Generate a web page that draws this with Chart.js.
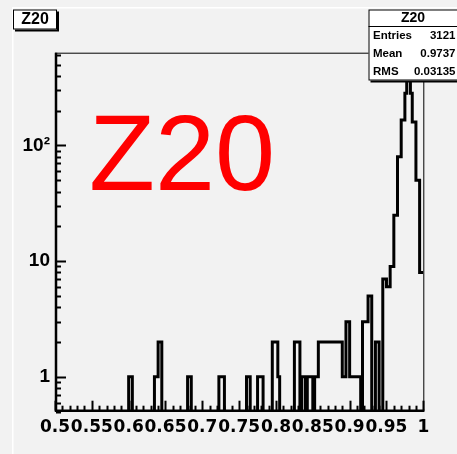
<!DOCTYPE html>
<html lang="en">
<head>
<meta charset="UTF-8">
<title>Z20</title>
<script src="https://cdn.jsdelivr.net/npm/chart.js"></script>
<style>
  html, body { margin: 0; padding: 0; background: #f2f2f2; }
  canvas { display: block; }
</style>
</head>
<body>
<canvas id="z20" width="457" height="454"></canvas>
<script>
// histogram, as runs of equal bin content (bin width 0.0025)
const runLow   = [0.600, 0.635, 0.640, 0.680, 0.7225, 0.760, 0.775, 0.795, 0.8025, 0.825, 0.835, 0.8425, 0.8525, 0.8575, 0.890, 0.895, 0.900, 0.9175, 0.925, 0.935, 0.945, 0.950, 0.955, 0.960, 0.965, 0.970, 0.975, 0.9775, 0.980, 0.9825, 0.985, 0.990, 0.995];
const runHigh  = [0.605, 0.640, 0.645, 0.685, 0.730, 0.765, 0.7825, 0.8025, 0.805, 0.8325, 0.840, 0.850, 0.8575, 0.890, 0.895, 0.900, 0.915, 0.925, 0.930, 0.940, 0.950, 0.955, 0.960, 0.965, 0.970, 0.975, 0.9775, 0.980, 0.9825, 0.985, 0.990, 0.995, 1.000];
const runCount = [1, 1, 2, 1, 1, 1, 1, 2, 1, 2, 1, 1, 1, 2, 1, 3, 1, 3, 5, 2, 7, 6, 9, 25, 80, 166, 283, 450, 420, 283, 160, 50, 8];

const xTicks = [0.5, 0.55, 0.6, 0.65, 0.7, 0.75, 0.8, 0.85, 0.9, 0.95, 1];
const yTicks = [1, 10, 100];
const yTickLabels = ['1', '10', '10\u00B2'];

const statLabels = ['Entries', 'Mean', 'RMS'];
const statValues = ['3121', '0.9737', '0.03135'];
const histTitle = 'Z20';

const X_MIN = 0.5, X_MAX = 1, N_BINS = 200;
const Y_MIN = 0.5, Y_MAX = 634;
const FONT = "'Liberation Sans', Arial, sans-serif";
const WIDE_FONT = "'DejaVu Sans', 'Liberation Sans', sans-serif";

// outline points, ROOT style (empty bins sit on the bottom of the frame)
const binW = (X_MAX - X_MIN) / N_BINS;
const outline = [];
for (let i = 0; i < N_BINS; i++) {
    const lo = X_MIN + i * binW;
    const hi = lo + binW;
    const mid = lo + binW / 2;
    let c = 0;
    runLow.forEach((l, k) => {
        if (mid > l && mid < runHigh[k]) c = runCount[k];
    });
    const y = c > 0 ? c : Y_MIN;
    outline.push({ x: lo, y: y }, { x: hi, y: y });
}

function shadowBox(ctx, x, y, w, h) {
    ctx.fillStyle = '#000';
    ctx.fillRect(x + 2, y + 2, w, h);
    ctx.fillStyle = '#fff';
    ctx.fillRect(x, y, w, h);
    ctx.strokeStyle = '#000';
    ctx.lineWidth = 1;
    ctx.strokeRect(x + 0.5, y + 0.5, w - 1, h - 1);
}

const rootStyle = {
    id: 'rootStyle',
    beforeDraw(chart) {
        const ctx = chart.ctx;
        ctx.save();
        ctx.fillStyle = '#f2f2f2';
        ctx.fillRect(0, 0, chart.width, chart.height);
        // pad edge highlight
        ctx.fillStyle = '#ffffff';
        ctx.fillRect(12, 7, chart.width - 12, 1.5);
        ctx.fillRect(12, 7, 1.5, chart.height - 7);
        ctx.restore();
    },
    afterDraw(chart) {
        const ctx = chart.ctx;
        const a = chart.chartArea;
        const xs = chart.scales.x, ys = chart.scales.y;
        ctx.save();

        // frame
        ctx.strokeStyle = '#000';
        ctx.lineWidth = 1;
        ctx.beginPath();
        ctx.moveTo(a.left, a.top + 0.5);
        ctx.lineTo(a.right + 0.5, a.top + 0.5);
        ctx.lineTo(a.right + 0.5, a.bottom);
        ctx.stroke();
        ctx.lineWidth = 2.5;
        ctx.beginPath();
        ctx.moveTo(a.left + 1, a.top);
        ctx.lineTo(a.left + 1, a.bottom - 1);
        ctx.lineTo(a.right + 1, a.bottom - 1);
        ctx.stroke();

        // x ticks (inside the frame)
        ctx.lineWidth = 2;
        for (let k = 0; k <= 50; k++) {
            const v = X_MIN + k * 0.01;
            const px = Math.round(xs.getPixelForValue(v)) + 0.5;
            const len = k % 5 === 0 ? 10 : 5;
            ctx.beginPath();
            ctx.moveTo(px, a.bottom - 1);
            ctx.lineTo(px, a.bottom - 1 - len);
            ctx.stroke();
        }
        // y ticks, log
        for (let e = -1; e <= 2; e++) {
            for (let d = 1; d <= 9; d++) {
                const v = d * Math.pow(10, e);
                if (v < Y_MIN || v > Y_MAX) continue;
                const py = Math.round(ys.getPixelForValue(v)) + 0.5;
                const len = d === 1 ? 10 : 5;
                ctx.beginPath();
                ctx.moveTo(a.left + 1, py);
                ctx.lineTo(a.left + 1 + len, py);
                ctx.stroke();
            }
        }

        // big red label
        ctx.fillStyle = '#ff0000';
        ctx.font = '108px ' + FONT;
        ctx.textAlign = 'left';
        ctx.textBaseline = 'alphabetic';
        ctx.fillText(histTitle, 89, 190);

        // title box
        shadowBox(ctx, 13, 9.5, 44, 20);
        ctx.fillStyle = '#000';
        ctx.font = 'bold 16px ' + FONT;
        ctx.textAlign = 'center';
        ctx.textBaseline = 'middle';
        ctx.fillText(histTitle, 35, 20);

        // stats box
        shadowBox(ctx, 368.5, 9.5, 100, 71);
        ctx.strokeStyle = '#000';
        ctx.lineWidth = 1;
        ctx.beginPath();
        ctx.moveTo(368.5, 26.5);
        ctx.lineTo(470, 26.5);
        ctx.stroke();
        ctx.fillStyle = '#000';
        ctx.font = 'bold 14px ' + FONT;
        ctx.textAlign = 'center';
        ctx.fillText(histTitle, 413, 18.5);
        ctx.font = 'bold 11.5px ' + FONT;
        const rowY = [36, 54, 71.5];
        statLabels.forEach((t, i) => {
            ctx.textAlign = 'left';
            ctx.fillText(t, 373, rowY[i]);
            ctx.textAlign = 'right';
            ctx.fillText(statValues[i], 455.5, rowY[i]);
        });

        ctx.restore();
    }
};

new Chart(document.getElementById('z20'), {
    type: 'line',
    data: {
        datasets: [{
            label: histTitle,
            data: outline,
            borderColor: '#000',
            borderWidth: 3,
            pointRadius: 0,
            tension: 0,
            fill: false
        }]
    },
    options: {
        responsive: false,
        animation: false,
        parsing: false,
        layout: { padding: { left: 0, right: 33.7, top: 52.7, bottom: 0 } },
        plugins: {
            legend: { display: false },
            tooltip: { enabled: false }
        },
        scales: {
            x: {
                type: 'linear',
                min: X_MIN,
                max: X_MAX,
                grid: { display: false, drawTicks: false },
                border: { display: false },
                afterBuildTicks: s => { s.ticks = xTicks.map(v => ({ value: v })); },
                afterFit: s => { s.height = 454 - 411.7; },
                ticks: {
                    autoSkip: false,
                    maxRotation: 0,
                    minRotation: 0,
                    padding: 6,
                    color: '#000',
                    font: { family: WIDE_FONT, weight: 'bold', size: 17 },
                    callback: v => String(Math.round(v * 1000) / 1000)
                }
            },
            y: {
                type: 'logarithmic',
                min: Y_MIN,
                max: Y_MAX,
                grid: { display: false, drawTicks: false },
                border: { display: false },
                afterBuildTicks: s => { s.ticks = yTicks.map(v => ({ value: v })); },
                afterFit: s => { s.width = 55; },
                ticks: {
                    autoSkip: false,
                    padding: 5,
                    color: '#000',
                    font: { family: FONT, weight: 'bold', size: 19 },
                    callback: v => {
                        const i = yTicks.indexOf(v);
                        return i >= 0 ? yTickLabels[i] : '';
                    }
                }
            }
        }
    },
    plugins: [rootStyle]
});
</script>
</body>
</html>
